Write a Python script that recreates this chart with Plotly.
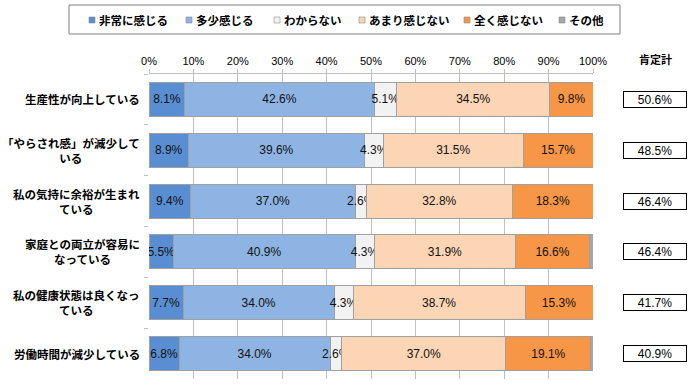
import plotly.graph_objects as go

categories = [
    "生産性が向上している",
    "「やらされ感」が減少して<br>いる",
    "私の気持に余裕が生まれ<br>ている",
    "家庭との両立が容易に<br>なっている",
    "私の健康状態は良くなっ<br>ている",
    "労働時間が減少している",
]
series_names = ["非常に感じる", "多少感じる", "わからない", "あまり感じない", "全く感じない", "その他"]
very = [8.1, 8.9, 9.4, 5.5, 7.7, 6.8]
somewhat = [42.6, 39.6, 37.0, 40.9, 34.0, 34.0]
unknown = [5.1, 4.3, 2.6, 4.3, 4.3, 2.6]
notmuch = [34.5, 31.5, 32.8, 31.9, 38.7, 37.0]
notatall = [9.8, 15.7, 18.3, 16.6, 15.3, 19.1]
other = [0.0, 0.0, 0.0, 0.8, 0.0, 0.5]
positive_total = [50.6, 48.5, 46.4, 46.4, 41.7, 40.9]
x_ticks = [0, 10, 20, 30, 40, 50, 60, 70, 80, 90, 100]

colors = ["#5A8ED2", "#8DB4E2", "#F2F2F2", "#FCD5B4", "#F79646", "#A6A6A6"]
all_series = [very, somewhat, unknown, notmuch, notatall, other]

W, H = 693, 386
ML, MR, MT, MB = 149, 100, 74, 7
PW, PH = W - ML - MR, H - MT - MB


def px(xp):
    return (xp - ML) / PW


def py(yp):
    return (H - MB - yp) / PH


JP = "Noto Sans CJK JP"
fig = go.Figure()
for name, vals, col in zip(series_names, all_series, colors):
    show_text = name != "その他"
    fig.add_trace(go.Bar(
        y=categories, x=vals, name=name, orientation="h",
        marker=dict(color=col, line=dict(color="#A0A0A0", width=1)),
        text=[f"{v:.1f}%" for v in vals] if show_text else None,
        textposition="inside" if show_text else "none",
        insidetextanchor="middle", textangle=0, constraintext="none",
        textfont=dict(family="Liberation Sans", size=12, color="#111111"),
        hoverinfo="skip", showlegend=False,
    ))

annotations = []
shapes = []
for c in categories:
    annotations.append(dict(
        x=0, xref="paper", y=c, yref="y", xanchor="right", xshift=-7,
        text=c, showarrow=False, align="center",
        font=dict(family=JP, size=11.5, color="#000000", weight="bold"),
    ))
for c, v in zip(categories, positive_total):
    annotations.append(dict(
        x=1, xref="paper", y=c, yref="y", xanchor="center", xshift=62,
        text=f"{v:.1f}%", showarrow=False, width=60, height=13,
        bordercolor="#000000", borderwidth=1, borderpad=1,
        font=dict(family="Liberation Sans", size=12, color="#000000"),
    ))
annotations.append(dict(
    x=1, xref="paper", y=1, yref="paper", xanchor="center", yanchor="bottom",
    xshift=62, yshift=5, text="肯定計", showarrow=False,
    font=dict(family=JP, size=11, color="#000000", weight="bold"),
))

# manual legend (layout positions in pixels)
legend_box = (69, 5, 620, 34)
legend_square_x = [89, 186, 274, 359, 464, 559]
legend_y = 20
shapes.append(dict(type="rect", xref="paper", yref="paper",
                   x0=px(legend_box[0]), x1=px(legend_box[2]),
                   y0=py(legend_box[3]), y1=py(legend_box[1]),
                   line=dict(color="#808080", width=1), fillcolor="white", layer="below"))
for name, col, sx in zip(series_names, colors, legend_square_x):
    shapes.append(dict(type="rect", xref="paper", yref="paper",
                       x0=px(sx), x1=px(sx + 6), y0=py(legend_y + 3), y1=py(legend_y - 3),
                       line=dict(color="#8C8C8C", width=0.6), fillcolor=col))
    annotations.append(dict(
        x=px(sx + 8), xref="paper", y=py(legend_y), yref="paper",
        xanchor="left", yanchor="middle", text=name, showarrow=False,
        font=dict(family=JP, size=11.5, color="#000000", weight="bold"),
    ))

fig.update_layout(
    barmode="stack",
    width=W, height=H,
    margin=dict(l=ML, r=MR, t=MT, b=MB),
    paper_bgcolor="white", plot_bgcolor="white",
    bargap=0.33,
    showlegend=False,
    xaxis=dict(
        side="top", range=[0, 100], tickvals=x_ticks,
        ticktext=[f"{t}%" for t in x_ticks],
        showgrid=True, gridcolor="#BFBFBF", gridwidth=1,
        showline=True, linecolor="#BFBFBF", linewidth=1,
        ticks="outside", ticklen=4, tickcolor="#BFBFBF",
        tickfont=dict(family="Liberation Sans", size=11, color="#000000"),
        zeroline=False, fixedrange=True,
    ),
    yaxis=dict(
        categoryorder="array", categoryarray=categories, autorange="reversed",
        showticklabels=False, ticks="outside", ticklen=4, tickcolor="#BFBFBF",
        tickson="boundaries", showline=False, showgrid=False, fixedrange=True,
    ),
    annotations=annotations,
    shapes=shapes,
)

fig.write_html("out.html", config={"displayModeBar": False, "staticPlot": True},
               post_script="document.body.style.margin='0';document.body.style.padding='0';")
